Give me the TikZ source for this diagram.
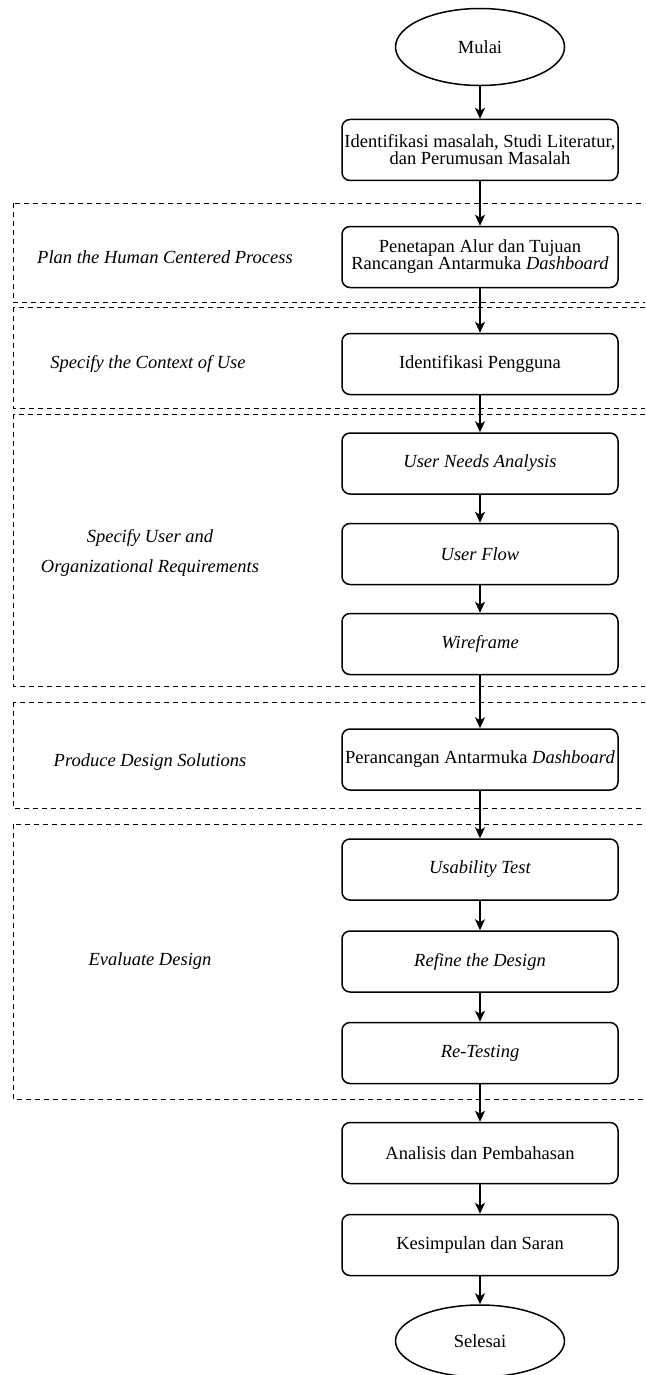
\documentclass[tikz,border=0pt]{standalone}
\usepackage{fontspec}
\setmainfont{Liberation Serif}
\usetikzlibrary{shapes.geometric,arrows.meta}

\begin{document}
\begin{tikzpicture}[x=1pt,y=-1pt,
    box/.style={draw,line width=1.5pt,rounded corners=8pt,minimum width=276pt,minimum height=61pt,inner sep=0pt,align=center,font=\fontsize{18.5}{17}\selectfont},
    term/.style={draw,line width=1.5pt,ellipse,minimum width=169pt,minimum height=77pt,inner sep=0pt,font=\fontsize{18.5}{17}\selectfont},
    phase/.style={draw,line width=1pt,dash pattern=on 5pt off 4pt},
    lbl/.style={align=center,font=\fontsize{18.5}{30}\selectfont\itshape},
    arr/.style={-{Stealth[length=11pt,width=10pt,inset=3pt]},line width=1.5pt}]
    % Page
    \useasboundingbox (0,0) rectangle (645,1375);
    \clip (0,0) rectangle (645,1375);
    % Phases
    \draw[phase] (13,203) rectangle (660,302);
    \draw[phase] (13,307) rectangle (660,408);
    \draw[phase] (13,414) rectangle (660,686);
    \draw[phase] (13,702) rectangle (660,808);
    \draw[phase] (13,824) rectangle (660,1099);
    % Phase labels
    \node[lbl] (plan) at (165,257) {Plan the Human Centered Process};
    \node[lbl] (context) at (148,364) {Specify the Context of Use};
    \node[lbl] (require) at (150,553) {Specify User and\\Organizational Requirements};
    \node[lbl] (produce) at (150,762) {Produce Design Solutions};
    \node[lbl] (evaluate) at (150,961) {Evaluate Design};
    % Steps
    \node[term] (mulai) at (480,47) {Mulai};
    \node[box] (identifikasi) at (480,150) {Identifikasi masalah, Studi Literatur,\\dan Perumusan Masalah};
    \node[box] (penetapan) at (480,257) {Penetapan Alur dan Tujuan\\Rancangan Antarmuka \textit{Dashboard}};
    \node[box] (pengguna) at (480,364) {Identifikasi Pengguna};
    \node[box] (needs) at (480,463.5) {\textit{User Needs Analysis}};
    \node[box] (flow) at (480,554) {\textit{User Flow}};
    \node[box] (wireframe) at (480,644) {\textit{Wireframe}};
    \node[box] (perancangan) at (480,759.5) {Perancangan Antarmuka \textit{Dashboard}};
    \node[box] (usability) at (480,869.5) {\textit{Usability Test}};
    \node[box] (refine) at (480,961.5) {\textit{Refine the Design}};
    \node[box] (retesting) at (480,1053) {\textit{Re-Testing}};
    \node[box] (analisis) at (480,1153) {Analisis dan Pembahasan};
    \node[box] (kesimpulan) at (480,1245) {Kesimpulan dan Saran};
    \node[term,minimum height=72pt] (selesai) at (480,1341) {Selesai};
    % Flow
    \draw[arr] (mulai) -- (identifikasi);
    \draw[arr] (identifikasi) -- (penetapan);
    \draw[arr] (penetapan) -- (pengguna);
    \draw[arr] (pengguna) -- (needs);
    \draw[arr] (needs) -- (flow);
    \draw[arr] (flow) -- (wireframe);
    \draw[arr] (wireframe) -- (perancangan);
    \draw[arr] (perancangan) -- (usability);
    \draw[arr] (usability) -- (refine);
    \draw[arr] (refine) -- (retesting);
    \draw[arr] (retesting) -- (analisis);
    \draw[arr] (analisis) -- (kesimpulan);
    \draw[arr] (kesimpulan) -- (selesai);
\end{tikzpicture}
\end{document}
